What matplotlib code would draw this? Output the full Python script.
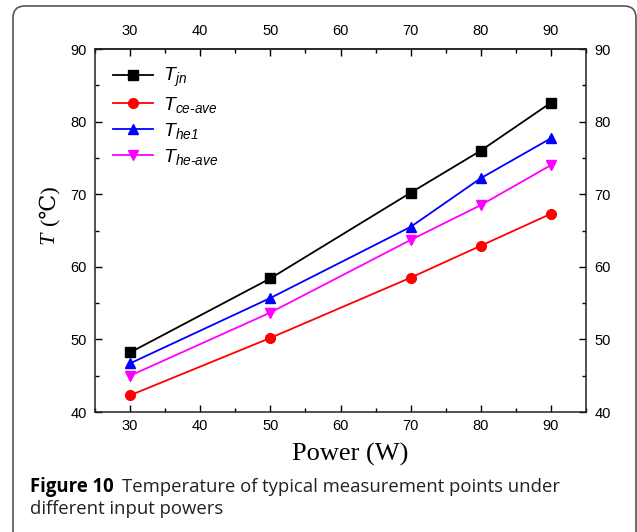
import matplotlib
matplotlib.use("Agg")
import matplotlib.pyplot as plt
from matplotlib.patches import FancyBboxPatch
from matplotlib.ticker import MultipleLocator

# measured temperatures at each input power
power = [30, 50, 70, 80, 90]
t_jn = [48.2, 58.4, 70.2, 76.0, 82.6]
t_ce_ave = [42.3, 50.2, 58.5, 62.9, 67.3]
t_he1 = [46.7, 55.7, 65.5, 72.2, 77.7]
t_he_ave = [45.0, 53.7, 63.7, 68.5, 74.0]

series_labels = [r"$\mathsf{T_{jn}}$", r"$\mathsf{T_{ce‐ave}}$",
                 r"$\mathsf{T_{he1}}$", r"$\mathsf{T_{he‐ave}}$"]
x_ticks = [30, 40, 50, 60, 70, 80, 90]

plt.rcParams["font.family"] = ["Liberation Sans", "DejaVu Sans"]
plt.rcParams["mathtext.fontset"] = "custom"
plt.rcParams["mathtext.it"] = "Liberation Serif:italic"
plt.rcParams["mathtext.rm"] = "Liberation Serif"
plt.rcParams["mathtext.sf"] = "Liberation Sans:italic"

fig = plt.figure(figsize=(6.37, 5.32), dpi=100)
ax = fig.add_axes([95 / 637, 1 - 412 / 532, 491 / 637, 363 / 532])

styles = [("black", "s", 6.5), ("#ff0000", "o", 7), ("#0000ff", "^", 7.5), ("#ff00ff", "v", 7.5)]
for vals, lab, (c, m, ms) in zip([t_jn, t_ce_ave, t_he1, t_he_ave], series_labels, styles):
    ax.plot(power, vals, color=c, marker=m, markersize=ms, lw=1.3, label=lab)

ax.set_xlim(25, 95)
ax.set_ylim(40, 90)
ax.set_xticks(x_ticks)
ax.xaxis.set_minor_locator(MultipleLocator(5))
ax.yaxis.set_major_locator(MultipleLocator(10))
ax.yaxis.set_minor_locator(MultipleLocator(5))
ax.tick_params(which="both", direction="in", right=True, labelright=True,
               labelsize=10.5, width=1)
ax.tick_params(which="major", length=5)
ax.tick_params(which="minor", length=3)
ax.tick_params(axis="x", which="major", pad=5)
ax.tick_params(axis="y", which="major", pad=6)

# top axis repeats the power scale with a wider label gap
top = ax.secondary_xaxis("top")
top.set_xticks(x_ticks)
top.xaxis.set_minor_locator(MultipleLocator(5))
top.tick_params(which="both", direction="in", labelsize=10.5, width=1)
top.tick_params(which="major", length=5, pad=8)
top.tick_params(which="minor", length=3)
top.spines["top"].set_linewidth(1.1)
top.spines["top"].set_color("#222222")

for s in ax.spines.values():
    s.set_linewidth(1.1)
    s.set_color("#222222")

ax.set_xlabel("Power (W)", fontsize=19, family="Liberation Serif", va="top")
ax.xaxis.set_label_coords(0.519, -0.086)

# y label: italic T plus the unit, rotated
ax.text(-0.0937, 0.479, "T", rotation=90, fontsize=16, family="Liberation Serif",
        style="italic", ha="center", va="center", transform=ax.transAxes)
ax.text(-0.0937, 0.57, "(℃)", rotation=90, fontsize=16,
        family=["Liberation Serif", "DejaVu Serif"], ha="center", va="center",
        transform=ax.transAxes)

ax.legend(loc="upper left", bbox_to_anchor=(0.021, 0.974), frameon=False,
          borderaxespad=0, fontsize=14, handlelength=2.06, labelspacing=0.3,
          handletextpad=0.5)

# rounded panel border
fig.patches.append(FancyBboxPatch((0.13, -0.5), 6.23, 5.76,
                                  boxstyle="round,pad=0,rounding_size=0.12",
                                  transform=fig.dpi_scale_trans, fill=False,
                                  ec="#555555", lw=1.2))

# caption
cap_font = ["Open Sans", "DejaVu Sans"]
bold = fig.text(30 / 637, 1 - 492 / 532, "Figure 10", fontsize=13.35,
                fontweight="bold", family=cap_font, va="baseline")
fig.canvas.draw()
bb = bold.get_window_extent()
fig.text(bb.x1 / 637 + 0.013, 1 - 492 / 532,
         "Temperature of typical measurement points under", fontsize=13.35,
         family=cap_font, va="baseline", color="#222222")
fig.text(30 / 637, 1 - 514 / 532, "different input powers", fontsize=13.35,
         family=cap_font, va="baseline", color="#222222")

fig.savefig("out.png", dpi=100)
